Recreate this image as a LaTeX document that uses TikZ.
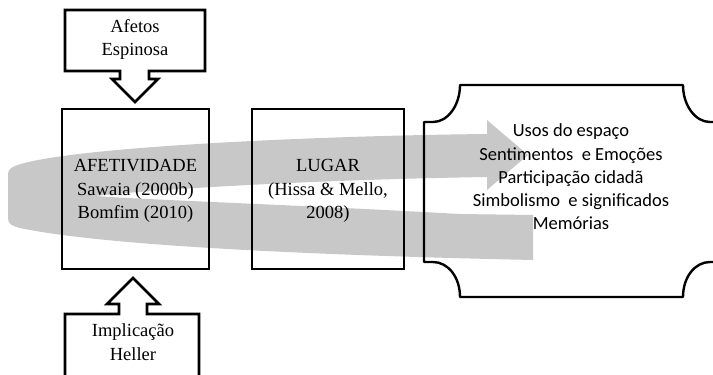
\documentclass[tikz,border=0pt]{standalone}
\usepackage{fontspec}
\setmainfont{Liberation Serif}
\newfontfamily\calib{Carlito}
\definecolor{bandgray}{RGB}{200,200,200}
\begin{document}
\begin{tikzpicture}[x=1pt,y=-1pt,
  serif/.style={font=\fontsize{18.5}{23.5}\selectfont, align=center, inner sep=0pt},
  sans/.style={font=\calib\fontsize{18.5}{23.2}\selectfont, align=center, inner sep=0pt},
  box/.style={draw=black, line width=1.6pt, inner sep=0pt},
  callout/.style={draw=black, line width=2.6pt, line join=miter},
  plaque/.style={draw=black, line width=2.4pt, line join=round}]
\useasboundingbox (0,0) rectangle (713,375);
\clip (0,0) rectangle (713,375);
% curved grey arrow band
\fill[bandgray] (533,215) -- (460,214) .. controls (300,205) and (150,200) .. (95,196)
  .. controls (150,190) and (300,180) .. (487,177) -- (487,190) -- (528,155) -- (487,120) -- (487,134)
  .. controls (300,136) and (60,148) .. (15,166) .. controls (8,169) and (8,172) .. (8,176)
  -- (8,218) .. controls (8,224) and (12,226) .. (20,228)
  .. controls (100,245) and (300,255) .. (533,260) -- cycle;
% main boxes
\node[box, minimum width=147pt, minimum height=160pt] (afet) at (135.5,189) {};
\node[serif] (afettxt) at (135.5,191) {AFETIVIDADE\\Sawaia (2000b)\\Bomfim (2010)};
\node[box, minimum width=152pt, minimum height=160pt] (lugar) at (328,189) {};
\node[serif] (lugartxt) at (328,191) {LUGAR\\(Hissa \& Mello,\\2008)};
% top callout
\node[serif] (afetos) at (135,39.5) {Afetos\\Espinosa};
\draw[callout] (65,10) -- (205,10) -- (205,71) -- (149,71) -- (149,79) -- (158,79)
  -- (135,102) -- (112,79) -- (120,79) -- (120,71) -- (65,71) -- cycle;
% bottom callout
\node[serif] (impl) at (133,342) {Implicação\\Heller};
\draw[callout] (65,385) -- (65,314) -- (119,314) -- (119,304) -- (107,304) -- (133,278)
  -- (159,304) -- (147,304) -- (147,314) -- (199,314) -- (199,385);
% plaque
\draw[plaque] (424,122) -- (433,122) .. controls (448,122) and (460,105) .. (460,85)
  -- (683,85) .. controls (683,105) and (695,122) .. (710,122) -- (719,122)
  -- (719,262) -- (710,262) .. controls (695,262) and (683,277) .. (683,297)
  -- (460,297) .. controls (460,277) and (448,262) .. (433,262) -- (424,262) -- cycle;
\node[sans] (plaq) at (571,177) {Usos do espaço\\Sentimentos\ \ e Emoções\\Participação cidadã\\Simbolismo\ \ e significados\\Memórias};
\end{tikzpicture}
\end{document}
